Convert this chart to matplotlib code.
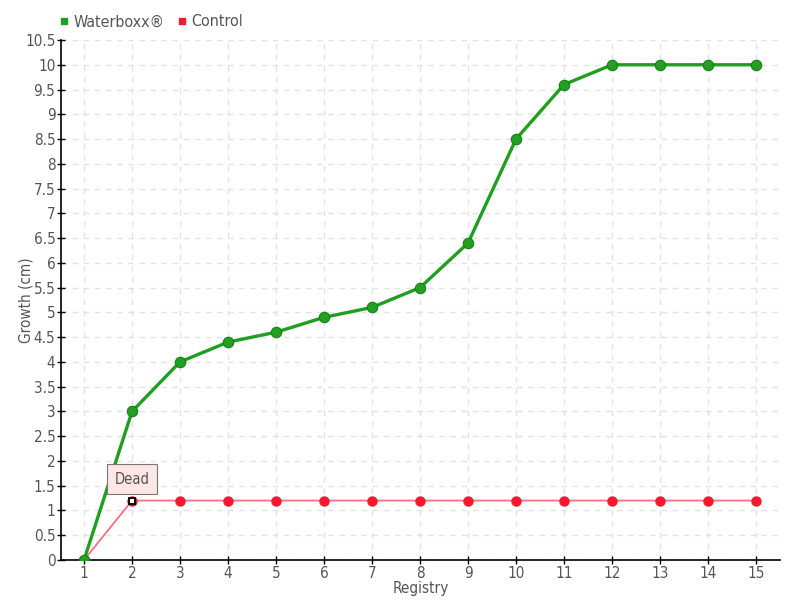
import matplotlib.pyplot as plt
from matplotlib.lines import Line2D

registry = list(range(1, 16))
waterboxx = [0, 3, 4, 4.4, 4.6, 4.9, 5.1, 5.5, 6.4, 8.5, 9.6, 10, 10, 10, 10]
control = [0, 1.2, 1.2, 1.2, 1.2, 1.2, 1.2, 1.2, 1.2, 1.2, 1.2, 1.2, 1.2, 1.2, 1.2]
yticks = [i * 0.5 for i in range(22)]

text_col = '#555555'
green = '#1f9e1f'
red = '#ee1c2e'

plt.rcParams['font.family'] = ['DejaVu Sans']
plt.rcParams['font.stretch'] = 'condensed'

fig = plt.figure(figsize=(8, 6), dpi=100)
ax = fig.add_axes([0.07625, 0.0667, 0.89875, 0.8666])

ax.plot(registry, control, color='#f47080', lw=1.3, marker='o', ms=6.5,
        mfc=red, mec=red, zorder=3)
ax.plot(registry, waterboxx, color=green, lw=2.4, marker='o', ms=7.5,
        mfc='#22a022', mec='#178017', mew=0.8, zorder=4)

# dead marker on control at registry 2
ax.plot(registry[1], control[1], marker='s', ms=4.5, mfc='white', mec='black', mew=1.3, zorder=5)
ax.annotate('Dead', xy=(registry[1], control[1]), xytext=(0, 15.5), textcoords='offset points',
            ha='center', va='center', fontsize=10.5, color=text_col,
            bbox=dict(boxstyle='square,pad=0.5', fc='#fde6e6', ec='#777777', lw=0.8),
            zorder=6)

ax.set_xlim(0.52, 15.5)
ax.set_ylim(0, 10.5)
ax.set_xticks(registry)
ax.set_yticks(yticks)
ax.set_yticklabels(['%g' % v for v in yticks])
ax.tick_params(direction='inout', length=6, width=1, labelsize=11, labelcolor=text_col, pad=1)
ax.grid(True, color='#e2e2e2', linestyle=(0, (4, 4)), lw=1)
ax.set_axisbelow(True)
for s in ['top', 'right']:
    ax.spines[s].set_visible(False)
ax.spines['left'].set_linewidth(1.2)
ax.spines['bottom'].set_linewidth(1.2)

ax.set_xlabel('Registry', color=text_col, fontsize=11, labelpad=0.5)
ax.set_ylabel('Growth (cm)', color=text_col, fontsize=11)
ax.yaxis.set_label_coords(-0.038, 0.5)

handles = [Line2D([], [], ls='', marker='s', ms=5, color=green),
           Line2D([], [], ls='', marker='s', ms=5, color=red)]
fig.legend(handles, ['Waterboxx®', 'Control'], loc='upper left', bbox_to_anchor=(0.052, 1.0),
           ncol=2, frameon=False, fontsize=11.5, handletextpad=0.1, columnspacing=0.6,
           handlelength=1, labelcolor=text_col)

fig.savefig('out.png', dpi=100)
